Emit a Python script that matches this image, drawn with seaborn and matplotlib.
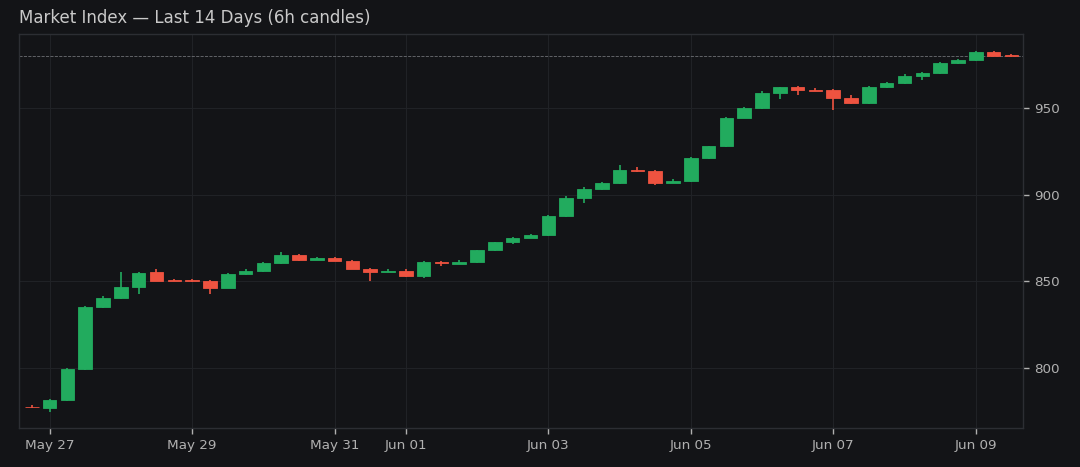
import pandas as pd
import numpy as np
import seaborn as sns
import matplotlib.pyplot as plt
import matplotlib.dates as mdates

# 6h candles, first one at May 26 18:00
start = '2025-05-26 18:00'
opens = [777.8, 777.2, 781.3, 799.2, 835.0, 840.6, 847.0, 855.2, 850.8, 850.6,
         850.2, 846.4, 854.0, 856.2, 860.8, 865.2, 862.6, 863.6, 862.0, 857.3,
         855.5, 855.9, 853.2, 861.1, 860.3, 861.0, 868.0, 872.6, 875.0, 876.6,
         887.8, 898.4, 903.6, 906.6, 914.2, 913.8, 907.0, 908.0, 921.2, 928.0,
         944.4, 950.0, 958.8, 962.0, 960.6, 960.2, 956.0, 953.0, 962.0, 964.2,
         968.8, 970.2, 976.0, 977.8, 982.4, 980.6]
highs = [778.5, 782.0, 799.8, 835.6, 841.4, 855.4, 855.5, 856.9, 851.2, 851.6,
         850.8, 854.6, 857.2, 861.4, 866.8, 866.0, 863.9, 864.2, 862.6, 857.8,
         857.0, 857.0, 861.8, 861.6, 862.2, 868.4, 873.0, 875.5, 877.2, 888.4,
         899.0, 904.2, 907.2, 917.2, 916.0, 914.2, 908.8, 921.6, 928.4, 944.8,
         950.6, 959.6, 962.4, 962.6, 961.4, 960.8, 957.5, 962.6, 965.0, 969.4,
         970.6, 976.4, 978.4, 982.8, 982.9, 981.0]
lows = [777.0, 774.5, 780.8, 798.8, 834.6, 840.0, 843.0, 850.0, 850.0, 849.8,
        843.0, 846.0, 853.6, 855.6, 860.2, 862.0, 862.2, 861.8, 857.0, 850.4,
        855.2, 852.8, 852.1, 859.0, 860.0, 860.6, 867.7, 871.8, 874.8, 876.2,
        887.4, 895.0, 903.0, 906.2, 913.0, 905.4, 906.6, 907.6, 920.6, 927.6,
        944.0, 949.6, 955.4, 957.3, 959.8, 948.8, 952.6, 952.6, 961.6, 963.8,
        966.2, 969.6, 975.6, 977.4, 979.8, 979.6]
closes = [777.3, 781.4, 799.2, 835.0, 840.6, 847.0, 855.0, 850.4, 850.3, 850.1,
          846.3, 854.0, 856.2, 860.8, 865.2, 862.6, 863.4, 862.0, 857.3, 855.6,
          856.0, 853.2, 861.2, 860.4, 861.0, 868.0, 872.6, 875.0, 876.6, 887.8,
          898.4, 903.6, 906.6, 914.0, 913.6, 907.0, 908.2, 921.2, 928.0, 944.4,
          950.0, 958.8, 962.0, 960.2, 960.0, 955.8, 953.0, 962.0, 964.2, 968.8,
          970.2, 976.0, 977.8, 982.2, 980.1, 979.8]

UP = '#22ab5e'
DOWN = '#ee5340'
BG = '#131417'

df = pd.DataFrame({'open': opens, 'high': highs, 'low': lows, 'close': closes})
df['time'] = pd.date_range(start, periods=len(df), freq='6h')
df['x'] = mdates.date2num(df['time'])
df['up'] = df['close'] >= df['open']
df['color'] = np.where(df['up'], UP, DOWN)
df['bottom'] = df[['open', 'close']].min(axis=1)
df['height'] = (df['close'] - df['open']).abs().clip(lower=0.5)

sns.set_theme(style='dark', rc={
    'figure.facecolor': BG,
    'axes.facecolor': BG,
    'axes.edgecolor': '#2c2e33',
    'grid.color': '#202226',
    'text.color': '#c9c9c9',
    'xtick.color': '#b0b0b0',
    'ytick.color': '#b0b0b0',
})

fig = plt.figure(figsize=(10.8, 4.67), dpi=100)
ax = fig.add_axes([0.0176, 0.0835, 0.9294, 0.8435])

width = 0.25 * 0.76
ax.vlines(df['x'], df['low'], df['high'], colors=df['color'], linewidth=1.2, zorder=2)
ax.bar(df['x'], df['height'], bottom=df['bottom'], width=width,
       color=df['color'], edgecolor=df['color'], linewidth=0.6, zorder=3)

# last close marker
ax.axhline(closes[-1], linestyle='--', linewidth=0.6, color='#6d6f74', zorder=1)

ax.set_xlim(df['x'].iloc[0] - 0.18, df['x'].iloc[-1] + 0.16)
ax.set_ylim(765.4, 992.7)

ax.xaxis.set_major_locator(mdates.DayLocator(bymonthday=range(1, 32, 2)))
ax.xaxis.set_major_formatter(mdates.DateFormatter('%b %d'))
ax.set_yticks([800, 850, 900, 950])
ax.yaxis.tick_right()
ax.tick_params(axis='both', labelsize=9.7, length=4, width=1, pad=4,
               bottom=True, right=True)
ax.grid(True, linewidth=0.8)
for s in ax.spines.values():
    s.set_linewidth(1)

fig.text(0.0176, 0.962, 'Market Index \u2014 Last 14 Days (6h candles)',
         fontsize=12, color='#c9c9c9', ha='left', va='center')

fig.savefig('out.png', dpi=100, facecolor=BG)
